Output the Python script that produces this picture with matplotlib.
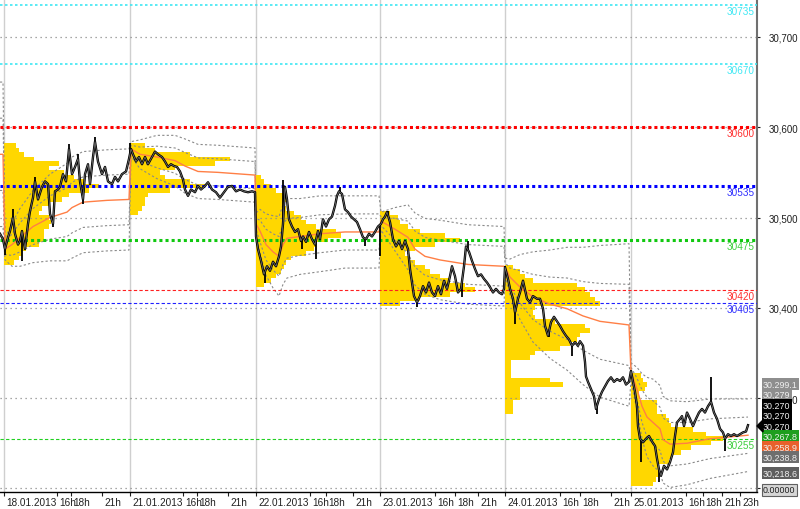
import numpy as np
import matplotlib.pyplot as plt
from matplotlib import transforms
from matplotlib.patches import Polygon

plt.rcParams['font.family'] = ['Liberation Sans', 'DejaVu Sans']
plt.rcParams['font.size'] = 7.2

# --- price bars (bar index, close) ---
price_x = [0, 3, 5, 8, 10, 13, 15, 18, 20, 22, 25, 28, 30, 33, 35, 38, 42, 45, 48, 50, 53, 55, 58, 60, 63,
           66, 69, 72, 75, 78, 80, 83, 85, 88, 90, 93, 95, 98, 102, 105, 108, 112, 115, 118, 122, 126, 129,
           131, 133, 136, 139, 142, 145, 148, 152, 155, 158, 162, 165, 168, 171, 174, 177, 180, 183, 185,
           188, 191, 195, 198, 201, 205, 208, 212, 216, 220, 224, 228, 232, 236, 240, 244, 248, 252, 255,
           256, 258, 261, 264, 267, 270, 273, 276, 279, 281, 283, 285, 287, 289, 292, 295, 298, 301, 303,
           306, 309, 312, 315, 318, 320, 323, 326, 329, 332, 335, 337, 339, 342, 345, 348, 351, 354, 357,
           360, 363, 366, 369, 372, 375, 378,
           381, 383, 385, 387, 390, 393, 396, 399, 402, 405, 408, 410, 412, 414, 417, 420, 423, 426, 429,
           432, 435, 438, 441, 444, 447, 450, 452, 455, 458, 461, 464, 466, 469, 472, 475, 478, 481, 484,
           487, 490, 493, 496, 499, 502, 504,
           505, 508, 510, 513, 515, 518, 520, 523, 527, 530, 533, 537, 540, 543, 545, 548, 551, 554, 557,
           560, 563, 566, 569, 572, 575, 578, 580, 583, 585, 586, 588, 591, 594, 596, 599, 602, 605, 608,
           611, 614, 617, 620, 623, 626, 629,
           631, 633, 635, 637, 638, 640, 643, 646, 649, 652, 655, 657, 659, 661, 664, 667, 670, 673, 675,
           677, 680, 682, 684, 687, 690, 693, 696, 699, 702, 705, 708, 711, 714, 717, 720, 723, 725, 728,
           731, 734, 737, 740, 743, 746, 748]
price_close = [30482, 30476, 30465, 30478, 30485, 30500, 30482, 30470, 30474, 30485, 30465, 30493, 30507,
               30522, 30540, 30520, 30534, 30540, 30537, 30504, 30493, 30529, 30531, 30534, 30548, 30540,
               30576, 30548, 30556, 30565, 30540, 30520, 30548, 30559, 30537, 30567, 30584, 30562, 30548,
               30556, 30540, 30537, 30545, 30540, 30548, 30551, 30565,
               30576, 30570, 30562, 30567, 30559, 30567, 30559, 30567, 30573, 30570, 30567, 30562, 30556,
               30559, 30557, 30556, 30551, 30542, 30531, 30524, 30531, 30528, 30535, 30531, 30535, 30539,
               30531, 30528, 30522, 30528, 30534, 30535, 30529, 30531, 30529, 30528, 30529, 30528,
               30479, 30465, 30452, 30437, 30446, 30441, 30451, 30446, 30457, 30468, 30493, 30534, 30520,
               30498, 30490, 30484, 30487, 30474, 30479, 30473, 30484, 30476, 30470, 30485, 30476, 30498,
               30490, 30498, 30501, 30513, 30524, 30529, 30526, 30509, 30506, 30501, 30498, 30495, 30487,
               30478, 30476, 30482, 30479, 30484, 30490,
               30493, 30498, 30501, 30506, 30495, 30476, 30468, 30474, 30465, 30474, 30465, 30443, 30428,
               30413, 30406, 30413, 30424, 30417, 30428, 30417, 30413, 30424, 30415, 30430, 30421, 30435,
               30446, 30435, 30417, 30421, 30446, 30468, 30462, 30452, 30443, 30435, 30437, 30432, 30428,
               30423, 30417, 30421, 30417, 30415, 30421,
               30445, 30432, 30421, 30410, 30395, 30410, 30417, 30430, 30410, 30406, 30413, 30410, 30410,
               30399, 30380, 30369, 30384, 30390, 30385, 30380, 30374, 30369, 30365, 30358, 30362, 30358,
               30363, 30358, 30340, 30324, 30318, 30310, 30302, 30288, 30299, 30307, 30313, 30319, 30323,
               30318, 30321, 30319, 30323, 30315, 30318,
               30330, 30318, 30307, 30291, 30269, 30255, 30251, 30255, 30258, 30252, 30247, 30233, 30221,
               30214, 30225, 30221, 30229, 30240, 30258, 30273, 30277, 30280, 30269, 30284, 30277, 30269,
               30277, 30284, 30288, 30284, 30291, 30296, 30284, 30277, 30266, 30262, 30255, 30260, 30258,
               30260, 30258, 30260, 30262, 30263, 30270]

# wick extremes
spike_x = [5, 13, 22, 35, 53, 69, 78, 83, 95, 130, 265, 283, 302, 316, 340, 365, 380, 388, 417, 462,
           468, 505, 515, 549, 572, 597, 641, 659, 711, 725]
spike_p = [30459, 30509, 30452, 30545, 30489, 30581, 30570, 30515, 30589, 30583, 30428, 30542, 30465,
           30454, 30534, 30468, 30457, 30507, 30401, 30412, 30474, 30446, 30382, 30368, 30347, 30282,
           30229, 30207, 30323, 30241]

# --- daily VWAP and its standard deviation ---
vwap_x = [0, 3, 5, 12, 20, 33, 50, 67, 72, 83, 107, 129,
          131, 140, 157, 175, 185, 198, 218, 255,
          256, 260, 266, 273, 279, 283, 287, 300, 320, 345, 379,
          381, 395, 408, 415, 425, 440, 468, 504,
          505, 510, 520, 533, 550, 567, 583, 600, 629,
          631, 637, 642, 647, 653, 660, 663, 670, 687, 710, 748]
vwap_p = [30570, 30570, 30465, 30470, 30478, 30490, 30500, 30506, 30511, 30517, 30519, 30520,
          30576, 30570, 30567, 30563, 30557, 30551, 30550, 30547,
          30493, 30485, 30470, 30462, 30457, 30470, 30477, 30479, 30482, 30484, 30484,
          30496, 30487, 30478, 30465, 30457, 30453, 30448, 30446,
          30445, 30434, 30423, 30412, 30404, 30399, 30391, 30385, 30381,
          30329, 30310, 30291, 30279, 30273, 30266, 30254, 30249, 30250, 30255, 30258.9]
vwap_sd = [40, 40, 6, 12, 16, 20, 24, 27, 28, 28, 28, 28,
           4, 8, 12, 14, 15, 15, 15, 15,
           6, 12, 17, 20, 22, 22, 22, 21, 21, 20, 20,
           5, 12, 18, 20, 21, 22, 22, 22,
           5, 10, 18, 25, 30, 34, 38, 42, 45,
           5, 12, 18, 22, 24, 24, 24, 24, 23, 22, 20.1]

# --- daily volume profiles (5-point bins, width in bars) ---
day_start = [4, 130, 256, 380, 505, 631]
day_labels = ['18.01.2013', '21.01.2013', '22.01.2013', '23.01.2013', '24.01.2013', '25.01.2013']
prof_low = [30450, 30505, 30425, 30405, 30285, 30205]
prof_18 = [10, 15, 18, 22, 35, 40, 40, 40, 45, 47, 45, 35, 38, 45, 58, 65, 85, 95, 80, 70, 60, 45, 55, 30,
           20, 15, 12]
prof_21 = [8, 12, 15, 15, 18, 40, 75, 60, 35, 30, 45, 85, 100, 60, 25, 15]
prof_22 = [8, 15, 20, 25, 28, 30, 35, 50, 58, 60, 72, 85, 80, 60, 50, 45, 38, 30, 28, 30, 28, 20, 15, 8, 5]
prof_23 = [20, 40, 70, 95, 85, 70, 60, 50, 45, 35, 28, 25, 35, 55, 80, 65, 40, 28, 20, 18, 10]
prof_24 = [8, 8, 8, 15, 15, 15, 58, 45, 6, 6, 6, 6, 25, 30, 55, 65, 72, 75, 85, 80, 50, 30, 28, 30, 95, 90,
           85, 80, 72, 28, 20, 15, 8]
prof_25 = [22, 25, 28, 28, 28, 38, 40, 50, 60, 80, 92, 75, 62, 40, 38, 35, 26, 26, 26, 8, 8, 14, 16, 12, 10]

hour_pos = [57, 71, 102, 183, 197, 228, 310, 326, 353, 435, 455, 478, 560, 580, 611, 686, 703, 722, 740]
hour_labels = ['16h', '18h', '21h'] * 5 + ['16h', '18h', '21h', '23h']

# --- horizontal levels ---
levels = [30735, 30670, 30600, 30535, 30475, 30420, 30405, 30255]
level_colors = ['#3FE6F2', '#3FE6F2', '#FF0000', '#0000FF', '#10C810', '#FF2020', '#2020FF', '#20D020']
level_text_colors = ['#40E8F4', '#40E8F4', '#FF3030', '#3030FF', '#40D040', '#FF3030', '#3030FF', '#40D040']
level_kind = ['thin', 'thin', 'thick', 'thick', 'thick', 'dash', 'dash', 'dash']
grid_levels = [30200, 30300, 30400, 30500, 30600, 30700]

box_labels = ['30,299.1', '30,279', '30,270', '30,270', '30,270', '30,267.8', '30,258.9', '30,238.8',
              '30,218.6', '0.00000']

Y_LO, Y_HI = 30196, 30742
X_HI = 757

fig = plt.figure(figsize=(8, 5.1), dpi=100)
ax = fig.add_axes([0, 1 - 493 / 510, X_HI / 800, 493 / 510])
ax.set_xlim(0, X_HI)
ax.set_ylim(Y_LO, Y_HI)

# day separators
ax.vlines(day_start, Y_LO, Y_HI, color='#CFCFCF', lw=1, zorder=0)

# volume profiles
for start, low, widths in zip(day_start, prof_low, [prof_18, prof_21, prof_22, prof_23, prof_24, prof_25]):
    lv = low + 5 * np.arange(len(widths))
    ax.barh(lv, widths, height=5, left=start, color='#FFD700', lw=0, zorder=1)

# grid
ax.hlines(grid_levels, 0, X_HI, colors='#8A8A8A', linestyles=(0, (1, 3)), lw=0.9, zorder=2)

# bands
vx = np.array(vwap_x)
vp = np.array(vwap_p)
sd = np.array(vwap_sd)
for k in (-2, -1, 1, 2):
    ax.plot(vx, vp + k * sd, color='#8A8A8A', lw=0.8, ls=(0, (2, 2)), zorder=3)

# levels
for lvl, c, tc, kind in zip(levels, level_colors, level_text_colors, level_kind):
    if kind == 'thick':
        ax.axhline(lvl, color=c, lw=2.2, ls=(0, (1, 1)), zorder=4)
    elif kind == 'thin':
        ax.axhline(lvl, color=c, lw=1.2, ls=(0, (1.5, 1.5)), zorder=4)
    else:
        ax.axhline(lvl, color=c, lw=0.8, ls=(0, (3, 2)), zorder=4)
    ax.text(0.997, lvl - 1, str(lvl), transform=ax.get_yaxis_transform(), ha='right', va='top',
            color=tc, fontsize=7.2, zorder=9)

# vwap
ax.plot(vx, vp, color='#FF7F45', lw=1.0, zorder=5)

# price
base = np.interp(spike_x, price_x, price_close)
ax.vlines(spike_x, base, spike_p, color='black', lw=1.3, zorder=6)
ax.plot(price_x, price_close, color='black', lw=1.7, zorder=6)
ax.plot(price_x, price_close, color='#7A7A7A', lw=0.5, zorder=7)

# axes styling
for s in ('top', 'left'):
    ax.spines[s].set_visible(False)
ax.spines['bottom'].set_color('black')
ax.spines['bottom'].set_linewidth(1.0)
ax.spines['right'].set_color('#707070')
ax.spines['right'].set_linewidth(1.5)

ax.yaxis.tick_right()
ax.set_yticks(grid_levels)
ax.set_yticklabels([f'{v:,}' for v in grid_levels])
ax.tick_params(axis='y', length=2.5, width=0.8, pad=6, colors='#202020', labelsize=7)

ax.set_xticks(day_start + hour_pos)
ax.set_xticklabels(day_labels + hour_labels)
ax.tick_params(axis='x', length=3, width=0.8, pad=0.5, colors='#202020', labelsize=7.2)
shift = transforms.ScaledTranslation(1.5 / 72, 0, fig.dpi_scale_trans)
for lab in ax.get_xticklabels():
    lab.set_horizontalalignment('left')
    lab.set_transform(lab.get_transform() + shift)

# right-side value boxes
box_y = [385, 395, 406, 416, 427, 437, 448, 458, 474, 491]
box_fc = ['#8E8E8E', '#8E8E8E', '#000000', '#000000', '#000000', '#1E9E1E', '#E8602C', '#6E6E6E',
          '#5E5E5E', '#D6D6D6']
box_tc = ['#F0F0F0'] * 9 + ['#202020']
box_ec = ['none'] * 9 + ['#606060']
for s, yp, fc, tc, ec in zip(box_labels, box_y, box_fc, box_tc, box_ec):
    fig.text(763 / 800, 1 - yp / 510, s, ha='left', va='center', color=tc, fontsize=6.4,
             bbox=dict(boxstyle='square,pad=0.15', fc=fc, ec=ec, lw=0.8), zorder=10)

arrow = Polygon([[757 / 800, 1 - 427 / 510], [763 / 800, 1 - 421 / 510], [763 / 800, 1 - 433 / 510]],
                closed=True, transform=fig.transFigure, color='black', zorder=11)
fig.patches.append(arrow)

fig.savefig('out.png', dpi=100)
